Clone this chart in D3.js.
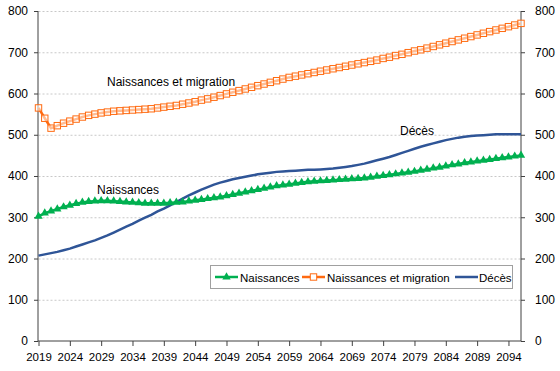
<!DOCTYPE html>
<html><head><meta charset="utf-8">
<script src="https://cdn.jsdelivr.net/npm/d3@7"></script>
<style>body{margin:0;background:#fff}svg{display:block}</style>
</head><body><svg id="c" width="560" height="371"></svg>
<script>
const years = d3.range(2019, 2097);
const naissances = [302,310,315,320,325,329,333,336,338,339,340,340,339,338,337,336,335,334,334,334,334,335,336,337,339,341,343,345,347,349,352,355,358,361,364,367,370,373,376,378,380,382,384,386,387,388,389,390,391,392,393,394,395,397,399,401,403,405,407,409,411,414,416,419,421,424,427,429,432,434,436,438,440,442,444,446,448,450];
const migration = [565,540,516,522,528,533,538,543,547,550,553,555,557,558,559,560,561,562,563,565,567,569,571,574,577,580,584,587,591,595,599,603,607,611,615,619,623,627,631,635,639,642,645,648,651,654,657,660,663,666,669,672,675,678,681,685,688,692,695,699,703,706,710,714,718,722,726,730,734,738,742,746,750,754,758,762,766,770];
const deces = [207,210,213,216,220,224,229,234,239,244,250,256,263,270,277,284,292,299,306,314,321,329,337,345,353,360,367,373,379,384,388,392,395,398,401,404,406,408,410,411,412,413,414,415,415,416,417,418,420,422,424,427,430,434,438,442,446,451,456,461,466,471,475,479,483,487,490,493,495,497,498,499,500,501,501,501,501,501];
const yTicks = [0,100,200,300,400,500,600,700,800];
const xTickYears = d3.range(2019, 2095, 5);
const seriesNames = ["Naissances","Naissances et migration","Décès"];

const svg = d3.select("#c");
const font = "Liberation Sans, Arial, sans-serif";
const x = d3.scaleLinear().domain([2019, 2096]).range([38.5, 521]);
const y = d3.scaleLinear().domain([0, 800]).range([341, 11]);
const cGreen = "#00B050", cOrange = "#FF6A10", cBlue = "#2F5597";

// grid
svg.append("g").selectAll("line").data(yTicks.filter(d=>d>0)).join("line")
  .attr("x1", x(2019)).attr("x2", x(2096)).attr("y1", d=>y(d)+0.5).attr("y2", d=>y(d)+0.5)
  .attr("stroke", "#c8c8c8").attr("stroke-dasharray", "2,2").attr("stroke-width", 1);

// axes
const axL = d3.axisLeft(y).tickValues(yTicks).tickSize(4).tickPadding(6);
const axR = d3.axisRight(y).tickValues(yTicks).tickSize(4).tickPadding(10);
const axB = d3.axisBottom(x).tickValues(xTickYears).tickFormat(d3.format("d")).tickSize(5).tickPadding(7);
function style(g){ g.selectAll("path,line").attr("stroke","#404040"); g.selectAll("text").attr("font-family",font).attr("font-size","12px").attr("fill","#000"); }
function styleB(g){ g.selectAll("path,line").attr("stroke","#404040"); g.selectAll("text").attr("font-family",font).attr("font-size","11.5px").attr("fill","#000"); }
svg.append("g").attr("transform",`translate(${x(2019)-0.5},0)`).call(axL).call(style).call(g=>g.select(".domain").attr("d",`M0,${y(800)}V${y(0)}`));
svg.append("g").attr("transform",`translate(${x(2096)},0)`).call(axR).call(style).call(g=>g.select(".domain").attr("d",`M0,${y(800)}V${y(0)}`));
svg.append("g").attr("transform",`translate(0,${y(0)})`).call(axB).call(styleB).call(g=>g.select(".domain").attr("d",`M${x(2019)-0.5},0H${x(2096)}`));

const line = d3.line().x((d,i)=>x(years[i])).y(d=>y(d));
// Décès
svg.append("path").datum(deces).attr("d", line).attr("fill","none").attr("stroke",cBlue).attr("stroke-width",2.5);
// Naissances
svg.append("path").datum(naissances).attr("d", line).attr("fill","none").attr("stroke",cGreen).attr("stroke-width",2.5);
const tri = d3.symbol().type(d3.symbolTriangle).size(30);
svg.append("g").selectAll("path").data(naissances).join("path")
  .attr("transform",(d,i)=>`translate(${x(years[i])},${y(d)})`).attr("d", tri).attr("fill",cGreen);
// Naissances et migration
svg.append("path").datum(migration).attr("d", line).attr("fill","none").attr("stroke",cOrange).attr("stroke-width",2.5);
svg.append("g").selectAll("rect").data(migration).join("rect")
  .attr("x",(d,i)=>x(years[i])-3.2).attr("y",d=>y(d)-3.2).attr("width",6.4).attr("height",6.4)
  .attr("fill","#fff").attr("fill-opacity",0.55).attr("stroke",cOrange).attr("stroke-width",1);

// annotations
const ann = [[seriesNames[1], 107, 86],[seriesNames[0], 97, 194],[seriesNames[2], 400, 135]];
svg.append("g").selectAll("text").data(ann).join("text")
  .attr("x",d=>d[1]).attr("y",d=>d[2]).text(d=>d[0])
  .attr("font-family",font).attr("font-size","12px").attr("fill","#000");

// legend
const lg = svg.append("g");
lg.append("rect").attr("x",210.5).attr("y",265.5).attr("width",302).attr("height",23).attr("fill","#fff").attr("stroke","#a0a0a0");
const items = [
  {name: seriesNames[0], c: cGreen, x0: 215, tx: 240, m: "tri"},
  {name: seriesNames[1], c: cOrange, x0: 302, tx: 327, m: "sq"},
  {name: seriesNames[2], c: cBlue, x0: 455, tx: 479, m: null}
];
items.forEach(it=>{
  const ly = 277;
  lg.append("line").attr("x1",it.x0).attr("x2",it.x0+23).attr("y1",ly).attr("y2",ly).attr("stroke",it.c).attr("stroke-width",2.5);
  if(it.m==="tri") lg.append("path").attr("transform",`translate(${it.x0+11.5},${ly})`).attr("d",tri).attr("fill",it.c);
  if(it.m==="sq") lg.append("rect").attr("x",it.x0+11.5-3.2).attr("y",ly-3.2).attr("width",6.4).attr("height",6.4).attr("fill","#fff").attr("stroke",it.c);
  lg.append("text").attr("x",it.tx).attr("y",ly+4.5).text(it.name).attr("font-family",font).attr("font-size","11.5px").attr("fill","#000");
});
</script></body></html>
